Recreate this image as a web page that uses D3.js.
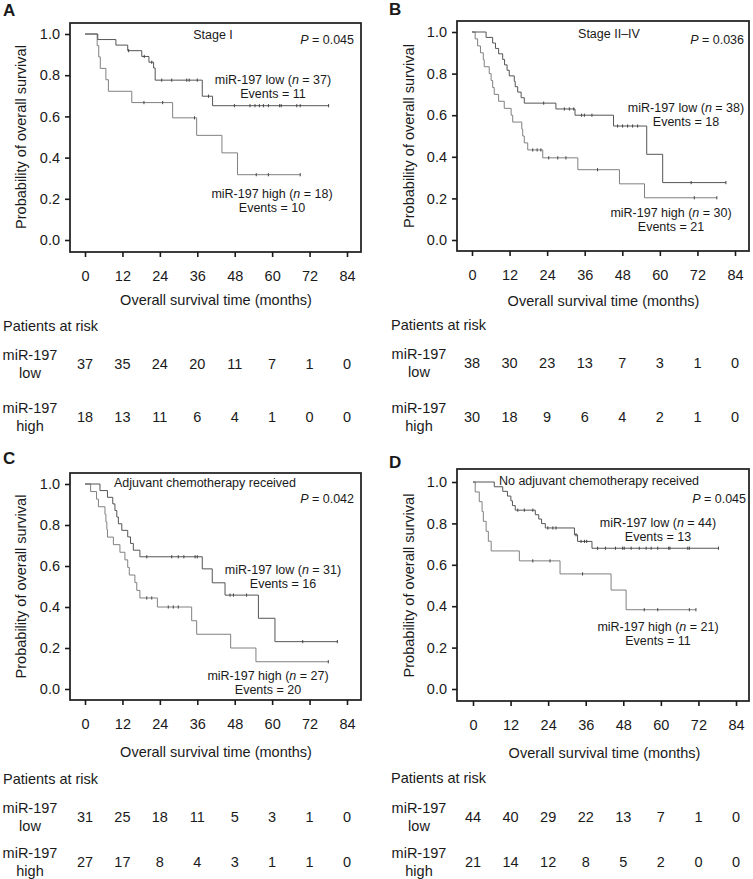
<!DOCTYPE html>
<html><head><meta charset="utf-8">
<script src="https://cdn.jsdelivr.net/npm/d3@7"></script>
<style>
html,body{margin:0;padding:0;background:#fff;}
svg{display:block;font-family:"Liberation Sans",Arial,Helvetica,sans-serif;}
</style></head>
<body><svg id="chart" width="753" height="879"></svg>
<script>
// ---------- shared axis values ----------
const monthTicks = [0, 12, 24, 36, 48, 60, 72, 84];
const probTicks = [0, 0.2, 0.4, 0.6, 0.8, 1.0];

// ---------- Panel A: Stage I ----------
const aLowT  = [0, 4.1, 9.9, 13.7, 18.2, 20.5, 22.0, 22.5, 37.6, 40.9, 78.1];
const aLowS  = [1, .973, .946, .919, .891, .863, .835, .776, .698, .652, .652];
const aLowC  = [14.0, 19.0, 21.4, 24.6, 27.8, 32.6, 33.4, 36.0, 39.6, 47.9, 52.9, 54.5, 55.9, 57.2, 58.8, 62.4, 62.9, 67.9, 69.0, 78.1];
const aHighT = [0, 3.9, 4.4, 4.9, 6.7, 7.5, 15.0, 28.1, 35.8, 43.9, 48.9, 69.0];
const aHighS = [1, .944, .889, .833, .778, .722, .667, .593, .508, .423, .317, .317];
const aHighC = [18.9, 24.9, 35.1, 54.9, 58.8, 69.0];
const aRiskLow  = [37, 35, 24, 20, 11, 7, 1, 0];
const aRiskHigh = [18, 13, 11, 6, 4, 1, 0, 0];

// ---------- Panel B: Stage II–IV ----------
const bLowT  = [0, 4.5, 6.6, 7.5, 8.5, 9.8, 10.4, 11.2, 11.9, 13.5, 13.8, 14.6, 15.7, 16.7, 26.8, 32.9, 45.2, 55.8, 60.9, 81.1];
const bLowS  = [1, .974, .947, .921, .895, .868, .842, .816, .789, .763, .737, .711, .684, .658, .630, .600, .548, .412, .276, .276];
const bLowC  = [22.9, 29.5, 31.1, 32.5, 35.0, 35.9, 38.3, 46.5, 48.1, 49.7, 51.3, 52.9, 70.0, 81.1];
const bHighT = [0, 1.0, 1.8, 2.7, 3.6, 3.9, 5.5, 6.1, 6.6, 7.1, 8.5, 10.3, 12.5, 13.0, 15.9, 16.2, 16.7, 17.8, 22.6, 33.8, 47.1, 55.1, 78.2];
const bHighS = [1, .967, .933, .900, .867, .833, .800, .767, .733, .700, .667, .633, .600, .567, .533, .500, .467, .433, .395, .338, .270, .203, .203];
const bHighC = [19.4, 20.8, 22.0, 24.5, 27.4, 30.0, 40.1, 71.0, 78.2];
const bRiskLow  = [38, 30, 23, 13, 7, 3, 1, 0];
const bRiskHigh = [30, 18, 9, 6, 4, 2, 1, 0];

// ---------- Panel C: Adjuvant chemotherapy received ----------
const cLowT  = [0, 4.8, 7.2, 8.9, 9.6, 10.2, 10.7, 11.8, 13.7, 14.6, 15.5, 17.6, 37.6, 40.8, 44.9, 55.6, 60.9, 80.9];
const cLowS  = [1, .968, .935, .903, .871, .839, .806, .774, .742, .710, .677, .645, .586, .518, .458, .345, .231, .231];
const cLowC  = [19.8, 27.8, 29.9, 31.7, 35.3, 36.0, 46.5, 47.6, 51.8, 69.8, 80.9];
const cHighT = [0, 1.8, 3.7, 4.3, 6.4, 6.7, 7.0, 7.2, 9.1, 11.2, 12.8, 13.7, 14.2, 16.0, 16.6, 17.6, 23.2, 34.2, 35.8, 46.7, 54.8, 78.0];
const cHighS = [1, .963, .926, .889, .852, .815, .778, .741, .704, .667, .630, .593, .556, .519, .481, .444, .400, .333, .267, .200, .133, .133];
const cHighC = [19.8, 21.4, 26.7, 28.3, 29.9, 78.0];
const cRiskLow  = [31, 25, 18, 11, 5, 3, 1, 0];
const cRiskHigh = [27, 17, 8, 4, 3, 1, 1, 0];

// ---------- Panel D: No adjuvant chemotherapy received ----------
const dLowT  = [0, 6.8, 9.5, 11.0, 12.1, 12.6, 13.5, 19.9, 21.0, 21.9, 23.1, 32.4, 33.4, 38.0, 78.4];
const dLowS  = [1, .977, .955, .932, .909, .886, .864, .842, .821, .799, .778, .745, .713, .680, .680];
const dLowC  = [14.3, 16.4, 19.1, 23.9, 25.5, 26.5, 32.9, 34.5, 35.6, 36.3, 39.8, 42.3, 45.5, 47.8, 48.3, 50.5, 53.1, 55.3, 56.9, 59.0, 62.5, 62.9, 68.6, 69.1, 78.4];
const dHighT = [0, 0.7, 2.0, 2.9, 3.3, 4.2, 4.9, 5.8, 14.8, 27.8, 44.1, 48.9, 71.2];
const dHighS = [1, .952, .905, .857, .810, .762, .714, .667, .619, .556, .478, .383, .383];
const dHighC = [19.1, 24.6, 35.0, 54.7, 59.0, 69.1, 71.2];
const dRiskLow  = [44, 40, 29, 22, 13, 7, 1, 0];
const dRiskHigh = [21, 14, 12, 8, 5, 2, 0, 0];

// ---------- texts ----------
const panelLetters = ["A", "B", "C", "D"];
const panelTitles = ["Stage I", "Stage II\u2013IV", "Adjuvant chemotherapy received", "No adjuvant chemotherapy received"];
const pValues = ["0.045", "0.036", "0.042", "0.045"];
const nLow = [37, 38, 31, 44], nHigh = [18, 30, 27, 21];
const evLow = [11, 18, 16, 13], evHigh = [10, 21, 20, 11];

// ---------- layout (positions only) ----------
const layouts = [
  {fx0:70, fx1:361, fy0:23, fy1:252, x0:85, x84:347, yTop:34, yBot:240, letter:[3,15.5], title:[213,35], p:[354,40],
   low:[273,80], high:[272,194], ytx:21, xtY:300, parY:326, rowLow:364, rowHigh:417, rowX:30, parX:3},
  {fx0:457, fx1:749, fy0:21, fy1:251, x0:472, x84:735, yTop:32, yBot:240, letter:[389,15], title:[609,34], p:[744,40],
   low:[686,108], high:[671,213], ytx:409, xtY:301, parY:325, rowLow:363, rowHigh:417, rowX:419, parX:391},
  {fx0:70, fx1:361, fy0:473, fy1:700, x0:85, x84:347, yTop:484, yBot:689, letter:[3,463.5], title:[205,483], p:[354,499],
   low:[283,570], high:[268,676], ytx:21, xtY:752, parY:779, rowLow:817, rowHigh:862, rowX:30, parX:3},
  {fx0:457, fx1:749, fy0:469, fy1:701, x0:473, x84:736, yTop:482, yBot:689, letter:[389,467.5], title:[599,481], p:[746,499],
   low:[658,523], high:[658,627], ytx:409, xtY:753, parY:778, rowLow:817, rowHigh:862, rowX:419, parX:391}
];

const series = [
  {lowT:aLowT, lowS:aLowS, lowC:aLowC, highT:aHighT, highS:aHighS, highC:aHighC, rl:aRiskLow, rh:aRiskHigh},
  {lowT:bLowT, lowS:bLowS, lowC:bLowC, highT:bHighT, highS:bHighS, highC:bHighC, rl:bRiskLow, rh:bRiskHigh},
  {lowT:cLowT, lowS:cLowS, lowC:cLowC, highT:cHighT, highS:cHighS, highC:cHighC, rl:cRiskLow, rh:cRiskHigh},
  {lowT:dLowT, lowS:dLowS, lowC:dLowC, highT:dHighT, highS:dHighS, highC:dHighC, rl:dRiskLow, rh:dRiskHigh}
];

const svg = d3.select("#chart");
const INK = "#1a1a1a";

function stepValue(T, S, t) {
  const i = d3.bisectRight(T, t) - 1;
  return S[Math.max(0, i)];
}

series.forEach((s, k) => {
  const L = layouts[k];
  const g = svg.append("g");
  const x = d3.scaleLinear().domain([0, 84]).range([L.x0, L.x84]);
  const y = d3.scaleLinear().domain([0, 1]).range([L.yBot, L.yTop]);

  g.append("text").attr("x", L.letter[0]).attr("y", L.letter[1])
    .attr("font-size", 17).attr("font-weight", "bold").attr("fill", INK).text(panelLetters[k]);

  const ya = g.append("g").attr("transform", `translate(${L.fx0},0)`)
    .call(d3.axisLeft(y).tickValues(probTicks).tickFormat(d3.format(".1f")).tickSize(5).tickPadding(5));
  const xa = g.append("g").attr("transform", `translate(0,${L.fy1})`)
    .call(d3.axisBottom(x).tickValues(monthTicks).tickSize(5).tickPadding(14));
  [ya, xa].forEach(a => {
    a.select(".domain").remove();
    a.selectAll("line").attr("stroke", INK).attr("stroke-width", 1.6);
    a.selectAll("text").attr("font-size", 14.5).attr("fill", INK)
      .attr("font-family", '"Liberation Sans",Arial,Helvetica,sans-serif');
  });

  g.append("rect").attr("x", L.fx0).attr("y", L.fy0)
    .attr("width", L.fx1 - L.fx0).attr("height", L.fy1 - L.fy0)
    .attr("fill", "none").attr("stroke", INK).attr("stroke-width", 1.7);

  const line = d3.line().x(d => x(d[0])).y(d => y(d[1])).curve(d3.curveStepAfter);
  const curves = [
    {T: s.highT, S: s.highS, C: s.highC, color: "#808080", w: 1},
    {T: s.lowT, S: s.lowS, C: s.lowC, color: "#555", w: 1}
  ];
  curves.forEach(c => {
    g.append("path").datum(d3.zip(c.T, c.S)).attr("d", line)
      .attr("fill", "none").attr("stroke", c.color).attr("stroke-width", c.w);
    g.selectAll(null).data(c.C).join("line")
      .attr("x1", d => x(d)).attr("x2", d => x(d))
      .attr("y1", d => y(stepValue(c.T, c.S, d)) - 1.6)
      .attr("y2", d => y(stepValue(c.T, c.S, d)) + 1.6)
      .attr("stroke", "#444").attr("stroke-width", 1);
  });

  const ann = (px, py, anchor) => g.append("text").attr("x", px).attr("y", py)
    .attr("dy", "0.35em").attr("text-anchor", anchor).attr("font-size", 12.5).attr("fill", INK);
  ann(L.title[0], L.title[1], "middle").text(panelTitles[k]);
  const pt = ann(L.p[0], L.p[1], "end");
  pt.append("tspan").attr("font-style", "italic").text("P");
  pt.append("tspan").text(" = " + pValues[k]);

  const lt = ann(L.low[0], L.low[1], "middle");
  lt.append("tspan").text("miR-197 low (");
  lt.append("tspan").attr("font-style", "italic").text("n");
  lt.append("tspan").text(" = " + nLow[k] + ")");
  ann(L.low[0], L.low[1] + 13.5, "middle").text("Events = " + evLow[k]);

  const ht = ann(L.high[0], L.high[1], "middle");
  ht.append("tspan").text("miR-197 high (");
  ht.append("tspan").attr("font-style", "italic").text("n");
  ht.append("tspan").text(" = " + nHigh[k] + ")");
  ann(L.high[0], L.high[1] + 14, "middle").text("Events = " + evHigh[k]);

  g.append("text").attr("transform", `translate(${L.ytx},${(L.yTop + L.yBot) / 2}) rotate(-90)`)
    .attr("text-anchor", "middle").attr("dy", "0.35em").attr("font-size", 14.5).attr("fill", INK)
    .text("Probability of overall survival");
  g.append("text").attr("x", (L.x0 + L.x84) / 2).attr("y", L.xtY).attr("dy", "0.35em")
    .attr("text-anchor", "middle").attr("font-size", 14.5).attr("fill", INK)
    .text("Overall survival time (months)");

  g.append("text").attr("x", L.parX).attr("y", L.parY).attr("dy", "0.35em")
    .attr("font-size", 14.5).attr("fill", INK).text("Patients at risk");
  const rows = [{y: L.rowLow, lab: "low", v: s.rl}, {y: L.rowHigh, lab: "high", v: s.rh}];
  rows.forEach(r => {
    g.append("text").attr("x", L.rowX).attr("y", r.y - 9).attr("dy", "0.35em")
      .attr("text-anchor", "middle").attr("font-size", 14.5).attr("fill", INK).text("miR-197");
    g.append("text").attr("x", L.rowX).attr("y", r.y + 9).attr("dy", "0.35em")
      .attr("text-anchor", "middle").attr("font-size", 14.5).attr("fill", INK).text(r.lab);
    g.selectAll(null).data(r.v).join("text")
      .attr("x", (d, i) => x(monthTicks[i])).attr("y", r.y).attr("dy", "0.35em")
      .attr("text-anchor", "middle").attr("font-size", 14.5).attr("fill", INK).text(d => d);
  });
});
</script></body></html>
